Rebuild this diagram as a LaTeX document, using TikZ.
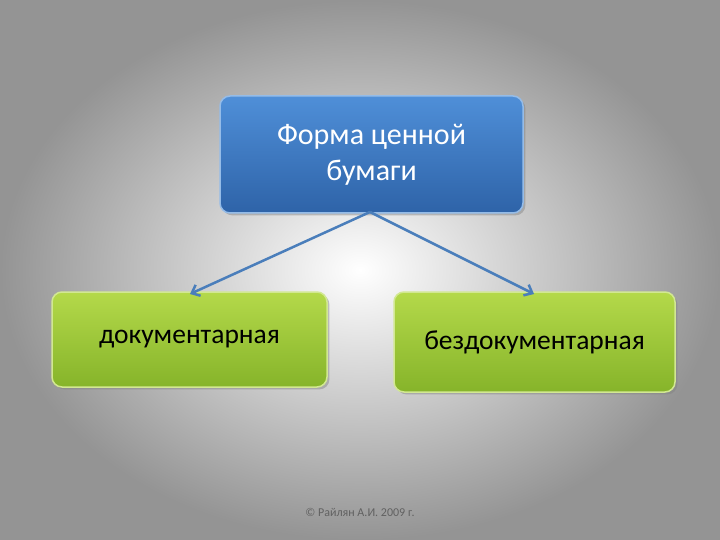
\documentclass[tikz,border=0pt]{standalone}
\usepackage{fontspec}
\setmainfont{Carlito}
\usetikzlibrary{shadows,arrows.meta}
\definecolor{bTop}{HTML}{4F8FD8}
\definecolor{bBot}{HTML}{2E63A8}
\definecolor{gTop}{HTML}{B4D94A}
\definecolor{gBot}{HTML}{86B42A}
\definecolor{lineC}{HTML}{4A7EBB}
\begin{document}
\begin{tikzpicture}[x=1pt,y=-1pt,
  bluebox/.style={draw=bTop!60!white, line width=1.5pt, rounded corners=10pt, top color=bTop, bottom color=bBot, drop shadow={opacity=0.45}, text=white, font=\fontsize{30}{36}\selectfont, align=center},
  greenbox/.style={draw=gTop!60!white, line width=1.5pt, rounded corners=10pt, top color=gTop, bottom color=gBot, drop shadow={opacity=0.45}, text=black, font=\fontsize{27.5}{32}\selectfont},
  conn/.style={draw=lineC, line width=2.5pt, -{Straight Barb[length=7pt,width=12pt]}}]
\shade[inner color=white, outer color=black!42] (0,0) rectangle (720,540);
\useasboundingbox (0,0) rectangle (720,540);
\node[bluebox, minimum width=303pt, minimum height=117pt] (top) at (371.5,154.5) {Форма ценной\\бумаги};
\node[greenbox, minimum width=275pt, minimum height=95pt] (left) at (189.5,339.5) {документарная};
\node[greenbox, minimum width=281pt, minimum height=100pt] (right) at (534.5,342) {бездокументарная};
\coordinate (s) at (370,212);
\coordinate (l) at (190,294);
\coordinate (r) at (534,294);
\draw[conn] (s) -- (l);
\draw[conn] (s) -- (r);
\node[text=black!62, font=\fontsize{12}{14}\selectfont] (foot) at (360,512) {© Райлян А.И. 2009 г.};
\end{tikzpicture}
\end{document}
